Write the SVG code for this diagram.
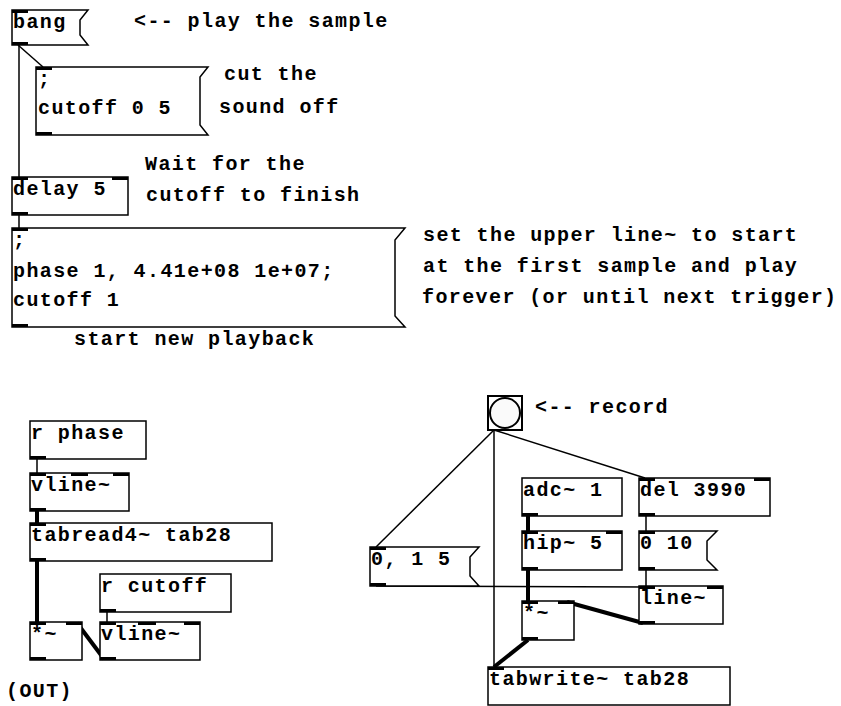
<svg xmlns="http://www.w3.org/2000/svg" width="841" height="706" viewBox="0 0 841 706">
<style>
.box{fill:#fff;stroke:#000;stroke-width:1.5}
.t{font-family:"Liberation Mono","DejaVu Sans Mono",monospace;font-weight:bold;font-size:20px;letter-spacing:1.4px;fill:#000}
.io{fill:#000}
.c{stroke:#000;stroke-width:1.5;fill:none}
.s{stroke:#000;stroke-width:4;fill:none}
</style>
<rect width="841" height="706" fill="#fff"/>

<g id="connectors">
<line class="c" x1="19" y1="45" x2="19" y2="177"/>
<line class="c" x1="18" y1="45" x2="43" y2="67"/>
<line class="c" x1="19" y1="215" x2="19" y2="228"/>
<line class="c" x1="37" y1="459" x2="37" y2="473"/>
<line class="c" x1="107" y1="612" x2="107" y2="622"/>
<line class="c" x1="494" y1="430" x2="376" y2="547"/>
<line class="c" x1="494" y1="430" x2="494" y2="667"/>
<line class="c" x1="494" y1="430" x2="645" y2="478"/>
<line class="c" x1="646" y1="516" x2="646" y2="531"/>
<line class="c" x1="646" y1="570" x2="646" y2="586"/>
<line class="c" x1="376" y1="586" x2="646" y2="587"/>
<line class="s" x1="37" y1="511" x2="37" y2="523"/>
<line class="s" x1="37" y1="561" x2="37" y2="622"/>
<line class="s" x1="104" y1="659" x2="77" y2="623"/>
<line class="s" x1="528" y1="516" x2="528" y2="531"/>
<line class="s" x1="528" y1="570" x2="528" y2="601"/>
<line class="s" x1="643" y1="623" x2="567" y2="602"/>
<line class="s" x1="528" y1="640" x2="494" y2="667"/>
</g>

<g id="msg-bang">
<path class="box" d="M12,10 H88 L80,20 V35 L88,45 H12 Z"/>
<rect class="io" x="12" y="10" width="16" height="3"/>
<rect class="io" x="12" y="42" width="16" height="3"/>
<text class="t" x="13" y="28">bang</text>
</g>
<g id="c-play"><text class="t" x="134" y="27">&lt;-- play the sample</text></g>

<g id="msg-cutoff">
<path class="box" d="M36,67 H208 L200,77 V125 L208,135 H36 Z"/>
<rect class="io" x="36" y="67" width="16" height="3"/>
<rect class="io" x="36" y="132" width="16" height="3"/>
<text class="t" x="38" y="85">;</text>
<text class="t" x="38" y="114">cutoff 0 5</text>
</g>
<g id="c-cut">
<text class="t" x="224" y="80">cut the</text>
<text class="t" x="219" y="113">sound off</text>
</g>

<g id="c-wait">
<text class="t" x="145" y="170">Wait for the</text>
<text class="t" x="146" y="201">cutoff to finish</text>
</g>

<g id="obj-delay">
<rect class="box" x="12" y="177" width="116" height="38"/>
<rect class="io" x="12" y="177" width="16" height="3"/>
<rect class="io" x="112" y="177" width="16" height="3"/>
<rect class="io" x="12" y="212" width="16" height="3"/>
<text class="t" x="13" y="195">delay 5</text>
</g>

<g id="msg-phase">
<path class="box" d="M12,228 H405 L395,240 V316 L405,327 H12 Z"/>
<rect class="io" x="12" y="228" width="16" height="3"/>
<rect class="io" x="12" y="324" width="16" height="3"/>
<text class="t" x="13" y="246">;</text>
<text class="t" x="13" y="277">phase 1, 4.41e+08 1e+07;</text>
<text class="t" x="13" y="306">cutoff 1</text>
</g>
<g id="c-set">
<text class="t" x="423" y="241">set the upper line~ to start</text>
<text class="t" x="423" y="272">at the first sample and play</text>
<text class="t" x="422" y="303">forever (or until next trigger)</text>
</g>
<g id="c-start"><text class="t" x="74" y="345">start new playback</text></g>

<g id="obj-rphase">
<rect class="box" x="30" y="421" width="116" height="38"/>
<rect class="io" x="30" y="456" width="16" height="3"/>
<text class="t" x="31" y="439">r phase</text>
</g>
<g id="obj-vline1">
<rect class="box" x="30" y="473" width="99" height="38"/>
<rect class="io" x="30" y="473" width="16" height="3"/>
<rect class="io" x="71" y="473" width="17" height="3"/>
<rect class="io" x="113" y="473" width="16" height="3"/>
<rect class="io" x="30" y="508" width="16" height="3"/>
<text class="t" x="31" y="491">vline~</text>
</g>
<g id="obj-tabread">
<rect class="box" x="30" y="523" width="242" height="38"/>
<rect class="io" x="30" y="523" width="16" height="3"/>
<rect class="io" x="30" y="558" width="16" height="3"/>
<text class="t" x="31" y="541">tabread4~ tab28</text>
</g>
<g id="obj-rcutoff">
<rect class="box" x="100" y="574" width="131" height="38"/>
<rect class="io" x="100" y="609" width="16" height="3"/>
<text class="t" x="101" y="592">r cutoff</text>
</g>
<g id="obj-mulL">
<rect class="box" x="30" y="622" width="52" height="38"/>
<rect class="io" x="30" y="622" width="16" height="3"/>
<rect class="io" x="66" y="622" width="16" height="3"/>
<rect class="io" x="30" y="657" width="16" height="3"/>
<text class="t" x="31" y="640">*~</text>
</g>
<g id="obj-vline2">
<rect class="box" x="100" y="622" width="100" height="38"/>
<rect class="io" x="100" y="622" width="16" height="3"/>
<rect class="io" x="138" y="622" width="18" height="3"/>
<rect class="io" x="184" y="622" width="16" height="3"/>
<rect class="io" x="100" y="657" width="16" height="3"/>
<text class="t" x="101" y="640">vline~</text>
</g>
<g id="c-out"><text class="t" x="6" y="697">(OUT)</text></g>

<g id="bng-record">
<rect x="488" y="396" width="34" height="34" fill="#fff" stroke="#000" stroke-width="2"/>
<circle cx="505" cy="413" r="15" fill="#fafafa" stroke="#000" stroke-width="2"/>
</g>
<g id="c-record"><text class="t" x="535" y="413">&lt;-- record</text></g>

<g id="obj-adc">
<rect class="box" x="522" y="478" width="100" height="38"/>
<rect class="io" x="522" y="513" width="16" height="3"/>
<text class="t" x="523" y="496">adc~ 1</text>
</g>
<g id="obj-del">
<rect class="box" x="639" y="478" width="131" height="38"/>
<rect class="io" x="639" y="478" width="16" height="3"/>
<rect class="io" x="754" y="478" width="16" height="3"/>
<rect class="io" x="639" y="513" width="16" height="3"/>
<text class="t" x="640" y="496">del 3990</text>
</g>
<g id="obj-hip">
<rect class="box" x="522" y="531" width="100" height="39"/>
<rect class="io" x="522" y="531" width="16" height="3"/>
<rect class="io" x="606" y="531" width="16" height="3"/>
<rect class="io" x="522" y="567" width="16" height="3"/>
<text class="t" x="523" y="549">hip~ 5</text>
</g>
<g id="msg-010">
<path class="box" d="M639,531 H717 L707,541 V560 L717,570 H639 Z"/>
<rect class="io" x="639" y="531" width="16" height="3"/>
<rect class="io" x="639" y="567" width="16" height="3"/>
<text class="t" x="640" y="549">0 10</text>
</g>
<g id="msg-015">
<path class="box" d="M370,547 H479 L470,557 V576 L479,586 H370 Z"/>
<rect class="io" x="370" y="547" width="16" height="3"/>
<rect class="io" x="370" y="583" width="16" height="3"/>
<text class="t" x="371" y="565">0, 1 5</text>
</g>
<g id="obj-line">
<rect class="box" x="639" y="586" width="84" height="38"/>
<rect class="io" x="639" y="586" width="16" height="3"/>
<rect class="io" x="707" y="586" width="16" height="3"/>
<rect class="io" x="639" y="621" width="16" height="3"/>
<text class="t" x="640" y="604">line~</text>
</g>
<g id="obj-mulR">
<rect class="box" x="522" y="601" width="52" height="39"/>
<rect class="io" x="522" y="601" width="16" height="3"/>
<rect class="io" x="558" y="601" width="16" height="3"/>
<rect class="io" x="522" y="637" width="16" height="3"/>
<text class="t" x="523" y="619">*~</text>
</g>
<g id="obj-tabwrite">
<rect class="box" x="488" y="667" width="242" height="38"/>
<rect class="io" x="488" y="667" width="16" height="3"/>
<text class="t" x="489" y="685">tabwrite~ tab28</text>
</g>
</svg>
